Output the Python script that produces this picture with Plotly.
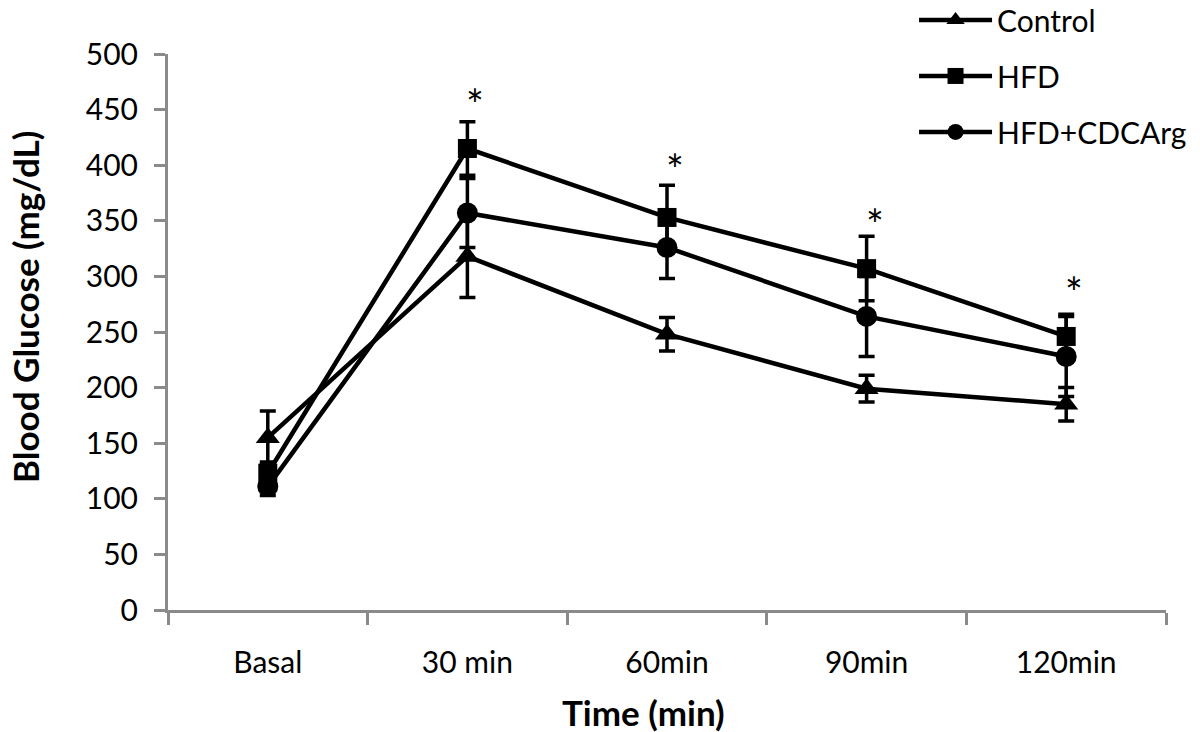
import plotly.graph_objects as go

categories = ["Basal", "30 min", "60min", "90min", "120min"]

control = [155, 318, 248, 199, 185]
control_err = [24, 37, 15, 12, 15]

hfd = [123, 415, 353, 307, 246]
hfd_err = [10, 24, 29, 29, 20]

cdcarg = [111, 357, 326, 264, 228]
cdcarg_err = [8, 31, 28, 36, 36]

sig_labels = ["", "*", "*", "*", "*"]
sig_y = [None, 455, 397, 347, 286]

y_ticks = [0, 50, 100, 150, 200, 250, 300, 350, 400, 450, 500]

x_title = "Time (min)"
y_title = "Blood Glucose (mg/dL)"

FONT = "Lato"
BLACK = "#000000"
AXIS_GRAY = "#8a8a8a"

fig = go.Figure()

series = [
    ("Control", control, control_err, "triangle-up", 21),
    ("HFD", hfd, hfd_err, "square", 19),
    ("HFD+CDCArg", cdcarg, cdcarg_err, "circle", 21),
]

for i, (name, vals, errs, sym, msize) in enumerate(series):
    fig.add_trace(go.Scatter(
        x=categories, y=vals, name=name, mode="lines+markers",
        line=dict(color=BLACK, width=4.5),
        marker=dict(symbol=sym, size=msize, color=BLACK),
        error_y=dict(type="data", array=errs, visible=True,
                     color=BLACK, thickness=3.5, width=8),
        legendgroup=f"g{i}",
    ))

for cat, lab, yv in zip(categories, sig_labels, sig_y):
    if lab and yv is not None:
        fig.add_annotation(x=cat, y=yv, text=lab, showarrow=False,
                           xshift=8, yanchor="middle",
                           font=dict(family=FONT, size=42, color=BLACK))

# axis titles (placed as in the reference, slightly off-centre)
fig.add_annotation(xref="paper", yref="paper", x=-0.1433, y=0.545,
                   text=f"<b>{y_title}</b>", textangle=-90, showarrow=False,
                   xanchor="center", yanchor="middle",
                   font=dict(family=FONT, size=35, color=BLACK))
fig.add_annotation(xref="paper", yref="paper", x=0.476, y=-0.184,
                   text=f"<b>{x_title}</b>", showarrow=False,
                   xanchor="center", yanchor="middle",
                   font=dict(family=FONT, size=35, color=BLACK))

fig.update_layout(
    width=1200, height=732,
    paper_bgcolor="white", plot_bgcolor="white",
    margin=dict(l=168, r=34, t=54, b=122, autoexpand=False),
    font=dict(family=FONT, color=BLACK),
    showlegend=True,
    legend=dict(
        xref="container", yref="paper",
        x=0.7617, y=1.108, xanchor="left", yanchor="top",
        font=dict(family=FONT, size=30, color=BLACK),
        itemwidth=73, tracegroupgap=14,
        bgcolor="rgba(0,0,0,0)", borderwidth=0,
    ),
)

fig.update_xaxes(
    type="category", range=[-0.5, 4.5],
    tickson="boundaries", ticks="outside", ticklen=12, tickwidth=2.5,
    tickcolor=AXIS_GRAY, showline=True, linecolor=AXIS_GRAY, linewidth=3,
    showgrid=False, zeroline=False, ticklabelstandoff=24,
    tickfont=dict(family=FONT, size=30, color=BLACK),
)

fig.update_yaxes(
    range=[0, 500], tickvals=y_ticks, ticktext=[str(v) for v in y_ticks],
    ticks="outside", ticklen=11, tickwidth=2.5, tickcolor=AXIS_GRAY,
    showline=True, linecolor=AXIS_GRAY, linewidth=3,
    showgrid=False, zeroline=False, ticklabelstandoff=10,
    tickfont=dict(family=FONT, size=30, color=BLACK),
)

fig.write_html("out.html", config={"displayModeBar": False},
               post_script="document.body.style.margin='0';")
